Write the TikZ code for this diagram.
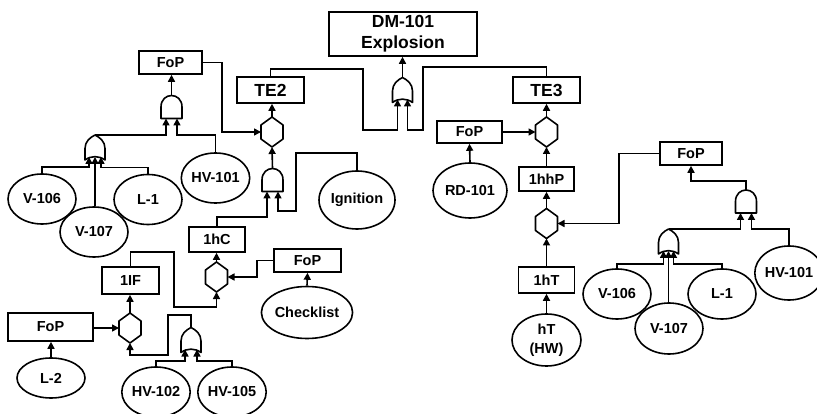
\documentclass[tikz,border=0pt]{standalone}
\usepackage{fontspec}
\setmainfont{Liberation Sans}
\usetikzlibrary{positioning, arrows.meta, shapes.geometric}

\tikzset{
  every node/.style={font=\fontsize{14.5}{17}\selectfont\bfseries, align=center},
  blk/.style={draw, rectangle, line width=1.6pt, inner sep=0pt, minimum height=23pt},
  evt/.style={draw, ellipse, line width=1.6pt, fill=white, inner sep=0pt, minimum width=68pt, minimum height=50pt},
  bigfont/.style={font=\fontsize{17.5}{21}\selectfont\bfseries},
  gatebox/.style={rectangle, inner sep=0pt, outer sep=0pt},
  gateline/.style={line width=1.6pt, line join=round},
  arr/.style={line width=1.6pt, -{Triangle[length=7pt,width=7pt]}}
}

% gate symbols: an empty node for the anchors, the outline drawn round it
\newcommand{\hexgate}[2]{%
  \node[gatebox, minimum width=22pt, minimum height=30pt] (#1) at (#2) {};
  \draw[gateline, shift={(#1.center)}] (0,-15) -- (11,-7) -- (11,7) -- (0,15) -- (-11,7) -- (-11,-7) -- cycle;
}
\newcommand{\andgate}[2]{%
  \node[gatebox, minimum width=21pt, minimum height=23pt] (#1) at (#2) {};
  \draw[gateline, shift={(#1.center)}] (-10.5,11.5) -- (-10.5,0) .. controls (-10.5,-15.3) and (10.5,-15.3) .. (10.5,0) -- (10.5,11.5) -- cycle;
}
\newcommand{\orgate}[2]{%
  \node[gatebox, minimum width=20pt, minimum height=25pt] (#1) at (#2) {};
  \draw[gateline, shift={(#1.center)}] (-10,12.5) .. controls (-4,8) and (4,8) .. (10,12.5) -- (10,1) .. controls (10,-6) and (5,-10) .. (0,-12.5) .. controls (-5,-10) and (-10,-6) .. (-10,1) -- cycle;
}

\begin{document}
\begin{tikzpicture}[x=1pt, y=-1pt]
  \useasboundingbox (0,0) rectangle (817,414);

  % top event
  \node[blk, bigfont, minimum width=148pt, minimum height=44pt] (top) at (403,34) {DM-101\\Explosion};
  \orgate{orTop}{402.5,90}
  \node[blk, bigfont, minimum width=67pt, minimum height=26pt] (te2) at (270.5,90) {TE2};
  \node[blk, bigfont, minimum width=67pt, minimum height=26pt] (te3) at (546.5,90) {TE3};

  % TE2 branch
  \hexgate{hexTE2}{272,132}
  \node[blk, minimum width=63pt] (fopA) at (170.5,62.5) {FoP};
  \andgate{andA}{171.5,107}
  \orgate{orA}{95,147.5}
  \node[evt] (v106a) at (42,199) {V-106};
  \node[evt] (l1a) at (148,199.5) {L-1};
  \node[evt] (v107a) at (94,232) {V-107};
  \node[evt] (hv101a) at (215.5,178) {HV-101};
  \andgate{andB}{272.5,180}
  \node[evt, minimum width=76pt, minimum height=58pt] (ign) at (357,200) {Ignition};
  \node[blk, minimum width=56pt, minimum height=25pt] (hc) at (217,239.5) {1hC};
  \hexgate{hexC}{216.5,277}
  \node[blk, minimum width=67pt] (fopC) at (307.5,260.5) {FoP};
  \node[evt, minimum width=88pt, minimum height=52pt] (check) at (307,312.5) {Checklist};
  \node[blk, minimum width=57pt, minimum height=27pt] (lif) at (130.5,280.5) {1IF};
  \hexgate{hexF}{130,328}
  \node[blk, minimum width=85pt, minimum height=28pt] (fopL) at (50.5,327) {FoP};
  \node[evt, minimum height=40pt] (l2) at (51,378) {L-2};
  \orgate{orF}{191,340}
  \node[evt] (hv102) at (156,392) {HV-102};
  \node[evt] (hv105) at (232,392) {HV-105};

  % TE3 branch
  \hexgate{hexTE3}{546.5,132}
  \node[blk, minimum width=65pt, minimum height=22pt] (fopR) at (469.5,132) {FoP};
  \node[evt, minimum width=74pt, minimum height=55pt] (rd) at (470,190.5) {RD-101};
  \node[blk, minimum width=55pt, minimum height=24pt] (hhp) at (546.5,179) {1hhP};
  \hexgate{hexP}{546.5,223.5}
  \node[blk, minimum width=56pt, minimum height=26pt] (ht) at (546.5,280) {1hT};
  \node[evt, minimum width=69pt, minimum height=52pt, font=\fontsize{14.5}{19}\selectfont\bfseries] (hw) at (546.5,340) {hT\\(HW)};
  \node[blk, minimum width=62pt] (fopP) at (691,153.5) {FoP};
  \andgate{andP}{746,201.5}
  \orgate{orP}{668.5,241.5}
  \node[evt] (v106b) at (617,294) {V-106};
  \node[evt] (l1b) at (722,294) {L-1};
  \node[evt, minimum height=51pt] (v107b) at (669,328.5) {V-107};
  \node[evt, minimum height=54pt] (hv101b) at (789,273) {HV-101};

  % connectors, top
  \draw[arr] (orTop.north) -- (orTop.north |- top.south);
  \draw[arr] (te2.north) |- (363,69) -- (363,130) -| ([xshift=-5pt,yshift=3pt]orTop.south);
  \draw[arr] (te3.north) |- (423,67) -- (423,130) -| ([xshift=5pt,yshift=3pt]orTop.south);

  % connectors, TE2 branch
  \draw[arr] (hexTE2.north) -- (hexTE2.north |- te2.south);
  \draw[arr] (fopA.east) -| (222,132) -- (hexTE2.west);
  \draw[arr] (andA.north) -- (andA.north |- fopA.south);
  \draw[arr] (orA.north) -| ([xshift=-5.5pt]andA.south);
  \draw[arr] (hv101a.north) -- (hv101a.north |- orA.north) -| ([xshift=5.5pt]andA.south);
  \draw[arr] (v106a.north) -- ++(0,-6) -| ([xshift=-6pt,yshift=3pt]orA.south);
  \draw[arr] (orA.south |- v107a.north) -- ([yshift=3pt]orA.south);
  \draw[arr] (l1a.north) -- ++(0,-6) -| ([xshift=6pt,yshift=3pt]orA.south);
  \draw[arr] (andB.north) -- (hexTE2.south);
  \draw[arr] (hc.north) -- ++(0,-9) -| ([xshift=-5.5pt]andB.south);
  \draw[arr] (ign.north) |- (296,153) -- (296,211) -| ([xshift=5.5pt]andB.south);
  \draw[arr] (hexC.north) -- (hexC.north |- hc.south);
  \draw[arr] (fopC.west) -- ++(-16,0) |- (hexC.east);
  \draw[arr] (check.north) -- (fopC.south);
  \draw[arr] (lif.north) |- (174,252) -- (174,307) -| (hexC.south);
  \draw[arr] (hexF.north) -- (hexF.north |- lif.south);
  \draw[arr] (fopL.east |- hexF.west) -- (hexF.west);
  \draw[arr] (l2.north) -- (l2.north |- fopL.south);
  \draw[arr] (orF.north) |- (168,315) -- (168,355) -| (hexF.south);
  \draw[arr] (hv102.north) -- ++(0,-5) -| ([xshift=-6pt,yshift=3pt]orF.south);
  \draw[arr] (hv105.north) -- ++(0,-5) -| ([xshift=6pt,yshift=3pt]orF.south);

  % connectors, TE3 branch
  \draw[arr] (hexTE3.north) -- (te3.south);
  \draw[arr] (fopR.east) -- (hexTE3.west);
  \draw[arr] (rd.north) -- (fopR.south);
  \draw[arr] (hhp.north) -- (hexTE3.south);
  \draw[arr] (hexP.north) -- (hhp.south);
  \draw[arr] (ht.north) -- (hexP.south);
  \draw[arr] (hw.north) -- (ht.south);
  \draw[arr] (fopP.west) -| (619,223.5) -- (hexP.east);
  \draw[arr] (andP.north) -- ++(0,-9) -| (fopP.south);
  \draw[arr] (orP.north) -| ([xshift=-5.5pt]andP.south);
  \draw[arr] (hv101b.north) -- (hv101b.north |- orP.north) -| ([xshift=5.5pt]andP.south);
  \draw[arr] (v106b.north) -- ++(0,-4) -| ([xshift=-5pt,yshift=3pt]orP.south);
  \draw[arr] (orP.south |- v107b.north) -- ([yshift=3pt]orP.south);
  \draw[arr] (l1b.north) -- ++(0,-4) -| ([xshift=5pt,yshift=3pt]orP.south);
\end{tikzpicture}
\end{document}
